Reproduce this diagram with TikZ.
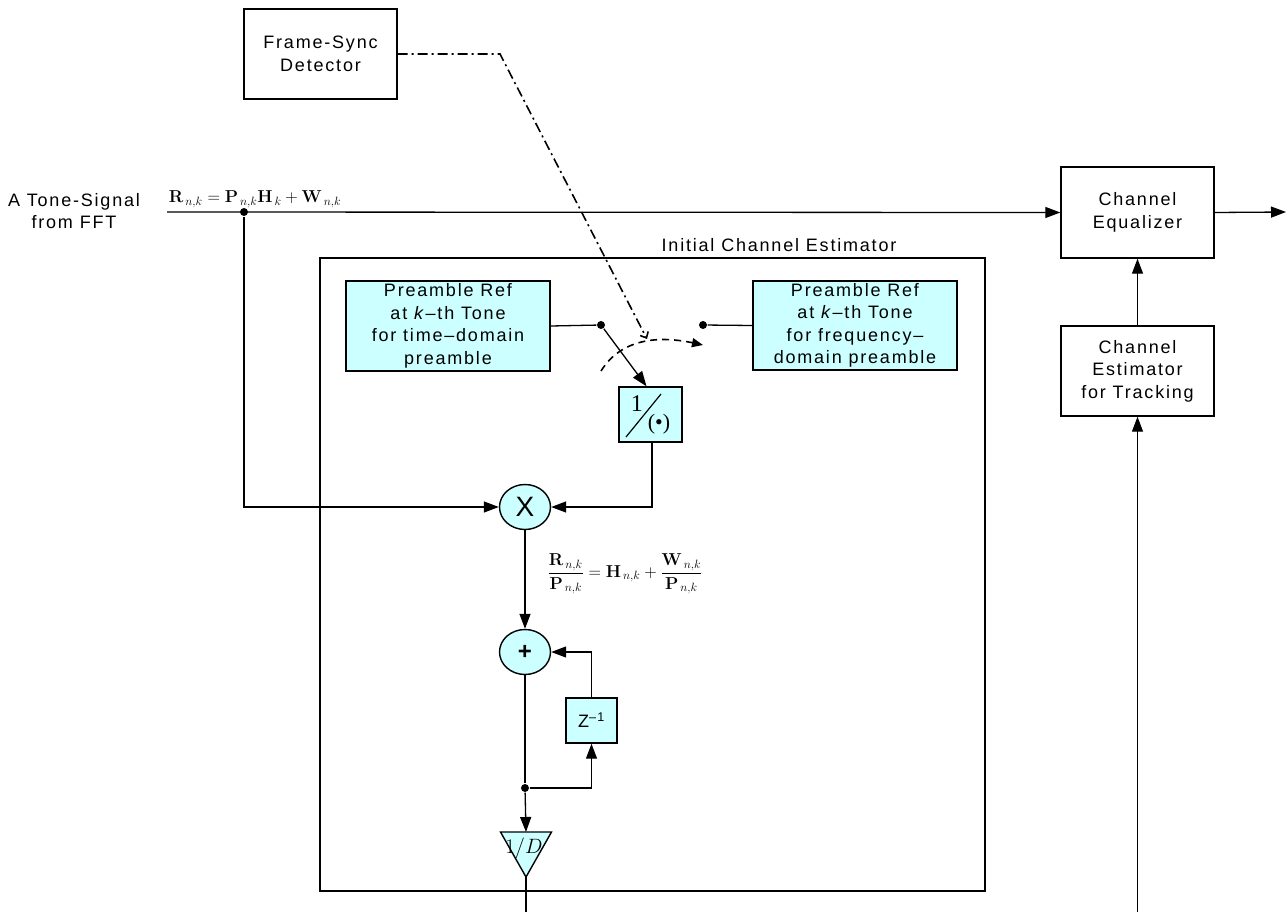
\documentclass[tikz,border=0pt]{standalone}
\usepackage{amsmath}
\usepackage[no-math]{fontspec}
\setmainfont{Liberation Sans}[LetterSpace=10]
\newfontfamily\eqserif{Liberation Serif}
\usetikzlibrary{calc}
\usetikzlibrary{arrows.meta}
\usetikzlibrary{shapes.geometric}
\definecolor{dCyan}{HTML}{CCFFFF}
\newcommand{\lblfont}{\fontsize{18}{22.5}\selectfont}
\tikzset{
    enddot/.style={
            circle,
            fill=black,
            inner sep=0pt, % no inside-rectangle
            minimum size=8pt
        },
    wire/.style={
            line width=1.3pt,
            -{Triangle[length=15pt,width=11pt]}
        },
    box/.style={
            draw,
            line width=1.4pt,
            align=center,
            inner sep=0pt,
            font=\lblfont
        },
    fcbox/.style={
            box,
            fill=dCyan
        },
    sumnode/.style={
            ellipse,
            draw,
            line width=1.4pt,
            fill=dCyan,
            inner sep=0pt,
            minimum width=51pt,
            minimum height=45pt
        },
    syncline/.style={
            line width=1.6pt,
            dash pattern=on 10pt off 4pt on 2pt off 4pt,
            -{Straight Barb[length=5pt,width=9pt]}
        },
    throw/.style={
            line width=1.6pt,
            dash pattern=on 7pt off 5pt,
            -{Triangle[length=11pt,width=9pt]}
        },
    slash/.style={
            path picture={
                    \draw[line width=1.2pt]
                    ([shift={(-24.5pt,-22.5pt)}]path picture bounding box.center)
                    -- ([shift={(10.5pt,20.5pt)}]path picture bounding box.center);
                }
        }
}
\newcommand{\estcoord}{%
    \coordinate (in) at (167,212);
    \coordinate (out) at (1286,212);
    \coordinate (trackin) at (1137.5,912);
    %
    \coordinate (bend) at (500,54);
    \coordinate (swtip) at (647,339);
    \coordinate (throwa) at (601,371);
    \coordinate (throwb) at (703,345);
    %
    \coordinate (avgl) at (500.5,832);
    \coordinate (avgr) at (551.5,832);
    \coordinate (avgtop) at (526,832);
    \coordinate (avgtip) at (526,877);
    \coordinate (avgout) at (526,912);
}

\begin{document}
\begin{tikzpicture}[
        x=1pt,
        y=-1pt,
        line width=1.3pt,
    ]
    \useasboundingbox (0,0) rectangle (1287,912);
    \estcoord
    % initial channel estimator frame
    \draw[line width=1.4pt] (320,258) rectangle (985,891);
    \node[font=\lblfont] (icetitle) at (779,245) {Initial Channel Estimator};
    % outer blocks
    \node[box, minimum width=153pt, minimum height=90pt] (sync) at (320.5,54) {Frame-Sync\\Detector};
    \node[box, minimum width=153pt, minimum height=91pt] (eq) at (1137.5,212.5) {Channel\\Equalizer};
    \node[box, minimum width=153pt, minimum height=90pt] (track) at (1137.5,371) {Channel\\Estimator\\for Tracking};
    \node[font=\lblfont, align=center] (src) at (74,211) {A Tone-Signal\\from FFT};
    \node[font=\fontsize{16.5}{18}\selectfont, anchor=base west] (rx) at (165,203)
    {$\mathbf{R}_{\,n,k}=\mathbf{P}_{\,n,k}\mathbf{H}_{\,k}+\mathbf{W}_{\,n,k}$};
    % preamble references and switch
    \node[fcbox, minimum width=204pt, minimum height=90pt] (tref) at (448,326)
    {Preamble Ref\\at \textit{k}–th Tone\\for time–domain\\preamble};
    \node[fcbox, minimum width=204pt, minimum height=89pt] (fref) at (855,325.5)
    {Preamble Ref\\at \textit{k}–th Tone\\for frequency–\\domain preamble};
    \node[enddot] (swa) at (601,325) {};
    \node[enddot] (swb) at (703,325) {};
    \node[fcbox, slash, minimum width=63pt, minimum height=55pt] (inv) at (650.5,414.5)
    {\eqserif\raisebox{8pt}{\fontsize{24}{24}\selectfont 1}\hspace{5pt}%
        \raisebox{-10pt}{\fontsize{22}{22}\selectfont (•)}};
    % multiplier and accumulator
    \node[enddot] (split) at (244,212) {};
    \node[sumnode, font=\fontsize{28}{28}\selectfont] (mult) at (525,507) {X};
    \node[font=\fontsize{18}{20}\selectfont] (ratio) at (625,574)
    {$\dfrac{\mathbf{R}_{\,n,k}}{\mathbf{P}_{\,n,k}}=\mathbf{H}_{\,n,k}+\dfrac{\mathbf{W}_{\,n,k}}{\mathbf{P}_{\,n,k}}$};
    \node[sumnode, font=\fontsize{24}{24}\selectfont\bfseries] (add) at (525,652) {+};
    \node[fcbox, minimum width=51pt, minimum height=45pt] (delay) at (591.5,720.5) {Z\textsuperscript{–1}};
    \node[enddot] (tap) at (525,788) {};
    \draw[line width=1.4pt, fill=dCyan] (avgl) -- (avgr) -- (avgtip) -- cycle;
    \node[font=\fontsize{21}{21}\selectfont] (avg) at (524,848) {$1/D$};
    % main signal path
    \draw[wire] (in) -- (eq.west);
    \draw[wire] (eq.east) -- (out);
    \draw[wire] (track.north) -- (eq.south);
    \draw[wire] (trackin) -- (track.south);
    \draw[wire] (split) |- (mult.west);
    % reference path
    \draw (tref.east) -- (swa);
    \draw (swb) -- (fref.west);
    \draw[wire] (swa) -- ([xshift=-4pt]inv.north);
    \draw[wire] ([xshift=1.5pt]inv.south) |- (mult.east);
    % averaging
    \draw[wire] (mult.south) -- (add.north);
    \draw[wire] (delay.north) |- (add.east);
    \draw (add.south) -- (tap);
    \draw[wire] (tap) -| (delay.south);
    \draw[wire] (tap) -- (avgtop);
    \draw (avgtip) -- (avgout);
    % frame sync control
    \draw[syncline] (sync.east) -- (bend) -- (swtip);
    \draw[throw] (throwa) to[out=58,in=168] (throwb);
\end{tikzpicture}
\end{document}
